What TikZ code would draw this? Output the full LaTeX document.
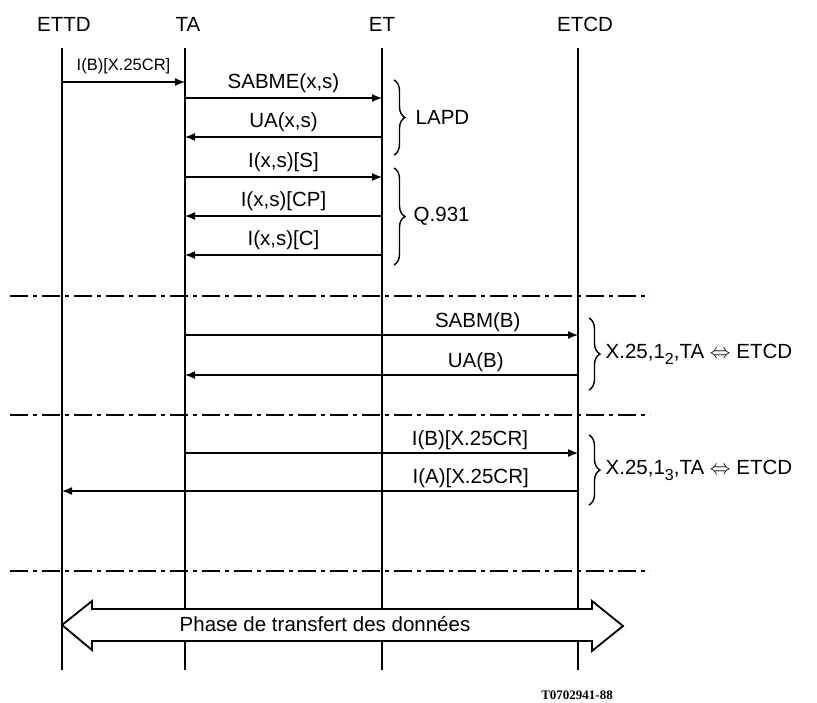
\documentclass[tikz,border=0pt]{standalone}
\usepackage{fontspec}
\setmainfont{Liberation Sans}
\newfontfamily\tagfont{Liberation Serif}
\usetikzlibrary{arrows.meta,decorations.pathreplacing}
\newcommand{\lowsub}[1]{\raisebox{-0.55ex}{\fontsize{16}{16}\selectfont #1}}

\tikzset{
  lbl/.style={font=\fontsize{20.5}{24}\selectfont, inner sep=2pt},
  life/.style={line width=1.4pt},
  msg/.style={line width=1.3pt, -{Latex[length=10pt,width=8pt]}},
  sepline/.style={line width=1.1pt, dash pattern=on 18pt off 5pt on 4pt off 5pt},
  grp/.style={line width=1.4pt, decorate, decoration={brace,amplitude=11pt}},
}

\begin{document}
\begin{tikzpicture}[>=Latex, x=1pt, y=-1pt]
  \useasboundingbox (0,0) rectangle (817,702);
  % heads of the lifelines
  \node[lbl] (ettd) at (64,24) {ETTD};
  \node[lbl] (ta) at (188,24) {TA};
  \node[lbl] (et) at (382,24) {ET};
  \node[lbl] (etcd) at (585,24) {ETCD};
  % lifelines
  \coordinate (ettdL) at (62,48);
  \coordinate (taL) at (185,48);
  \coordinate (etL) at (382,48);
  \coordinate (etcdL) at (578,48);
  \foreach \l in {ettdL,taL,etL,etcdL}
    \draw[life] (\l) -- (\l |- 0,670);

  % phase separators
  \foreach \y in {296,415,571}
    \draw[sepline] (10,\y) -- (650,\y);

  % set-up of the B channel
  \draw[msg] (ettdL |- 0,82) -- (taL |- 0,82)
    node[midway,above=5pt,lbl,font=\fontsize{16.5}{19}\selectfont]{I(B)[X.25CR]};
  \draw[msg] (taL |- 0,98) -- (etL |- 0,98) node[midway,above=2.5pt,lbl]{SABME(x,s)};
  \draw[msg] (etL |- 0,137) -- (taL |- 0,137) node[midway,above=2.5pt,lbl]{UA(x,s)};
  \draw[msg] (taL |- 0,177) -- (etL |- 0,177) node[midway,above=2.5pt,lbl]{I(x,s)[S]};
  \draw[msg] (etL |- 0,216) -- (taL |- 0,216) node[midway,above=2.5pt,lbl]{I(x,s)[CP]};
  \draw[msg] (etL |- 0,255) -- (taL |- 0,255) node[midway,above=2.5pt,lbl]{I(x,s)[C]};
  \draw[grp] (394,80) -- (394,155) node[midway,right=19pt,lbl]{LAPD};
  \draw[grp] (394,168) -- (394,265) node[midway,right=17pt,lbl]{Q.931};

  % link layer TA - ETCD
  \draw[msg] (taL |- 0,335) -- (etcdL |- 0,335) node[pos=0.745,above=1pt,lbl]{SABM(B)};
  \draw[msg] (etcdL |- 0,375) -- (taL |- 0,375) node[pos=0.26,above=1pt,lbl]{UA(B)};
  \draw[grp] (589,318) -- (589,390)
    node[midway,right=14pt,lbl]{X.25,1\lowsub{2},TA $\Leftrightarrow$ ETCD};

  % packet layer
  \draw[msg] (taL |- 0,453) -- (etcdL |- 0,453) node[pos=0.725,above=1pt,lbl]{I(B)[X.25CR]};
  \draw[msg] (etcdL |- 0,491) -- (ettdL |- 0,491) node[pos=0.208,above=1pt,lbl]{I(A)[X.25CR]};
  \draw[grp] (589,435) -- (589,505)
    node[midway,right=14pt,lbl]{X.25,1\lowsub{3},TA $\Leftrightarrow$ ETCD};

  % data transfer phase
  \draw[line width=1.8pt, fill=white, line join=miter]
    (62,625) -- (92,601) -- (92,609) -- (592,609) -- (592,601) -- (623,626)
    -- (592,651) -- (592,641) -- (92,641) -- (92,650) -- cycle;
  \node[lbl] (phase) at (325,624) {Phase de transfert des données};

  \node[font=\tagfont\bfseries\fontsize{13}{15}\selectfont] (tag) at (577,695) {T0702941-88};
\end{tikzpicture}
\end{document}
